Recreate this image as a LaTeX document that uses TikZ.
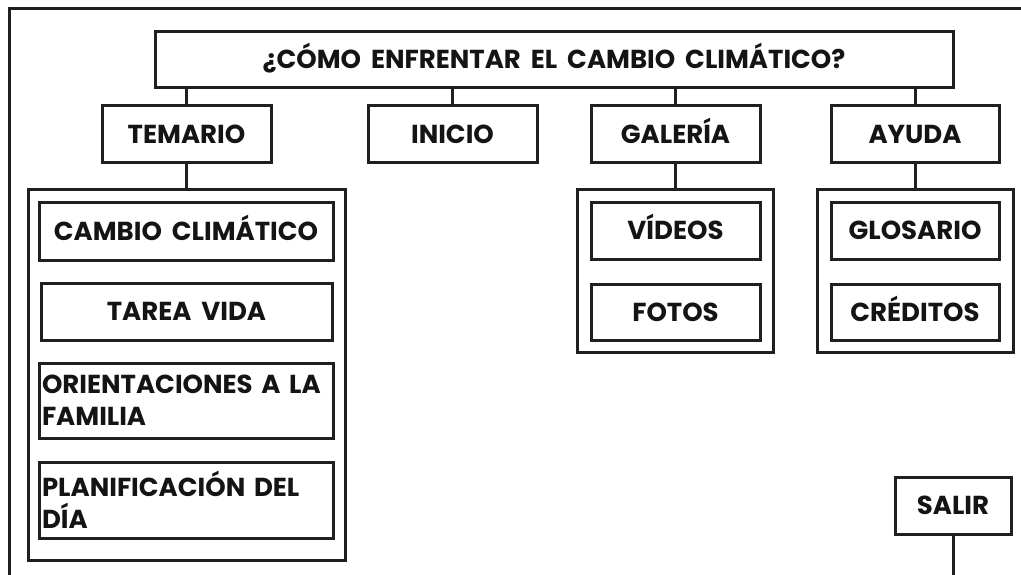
\documentclass[tikz,border=0pt]{standalone}
\usepackage{fontspec}
\setmainfont{Poppins}[WordSpace=1.8]
\begin{document}
\begin{tikzpicture}[x=1pt,y=-1pt,
  box/.style={draw=black!88,line width=3pt,rectangle,inner sep=0pt,font=\bfseries\fontsize{26}{32}\selectfont,text=black!92},
  one/.style={box,text height=18pt,text depth=0pt},
  grp/.style={draw=black!88,line width=3pt,rectangle,inner sep=0pt},
  link/.style={draw=black!88,line width=3pt}]
\useasboundingbox (0,0) rectangle (1021,575);
% frame
\draw[link] (9,575) -- (9,9) -- (1021,9);
% title
\node[one,minimum width=798pt,minimum height=56pt] (title) at (554,60) {¿CÓMO ENFRENTAR EL CAMBIO CLIMÁTICO?};
% level 1
\node[one,minimum width=169pt,minimum height=57pt] (temario) at (186.5,134.5) {TEMARIO};
\node[one,minimum width=169pt,minimum height=57pt] (inicio) at (452.5,134.5) {INICIO};
\node[one,minimum width=169pt,minimum height=57pt] (galeria) at (675.5,134.5) {GALERÍA};
\node[one,minimum width=168pt,minimum height=57pt] (ayuda) at (915,134.5) {AYUDA};
\foreach \n in {temario,inicio,galeria,ayuda}
  \draw[link] (title.south -| \n.north) -- (\n.north);
% groups
\node[grp,minimum width=317pt,minimum height=371pt] (gtem) at (186.5,375) {};
\node[grp,minimum width=196pt,minimum height=162pt] (ggal) at (675.5,271) {};
\node[grp,minimum width=196pt,minimum height=162pt] (gayu) at (915,271) {};
\draw[link] (temario.south) -- (gtem.north);
\draw[link] (galeria.south) -- (ggal.north);
\draw[link] (ayuda.south) -- (gayu.north);
% temario items
\node[one,minimum width=294pt,minimum height=57pt] (cambio) at (186,231.5) {CAMBIO CLIMÁTICO};
\node[one,minimum width=291pt,minimum height=57pt] (tarea) at (186.5,311.5) {TAREA VIDA};
\node[box,minimum width=294pt,minimum height=75pt,text width=288pt,align=left,inner xsep=3pt] (orient) at (186,400.5) {ORIENTACIONES A LA\\FAMILIA};
\node[box,minimum width=294pt,minimum height=76pt,text width=288pt,align=left,inner xsep=3pt] (plan) at (186,500) {PLANIFICACIÓN DEL\\DÍA};
% galeria items
\node[one,minimum width=169pt,minimum height=56pt] (videos) at (675.5,231) {VÍDEOS};
\node[one,minimum width=169pt,minimum height=56pt] (fotos) at (675.5,312) {FOTOS};
% ayuda items
\node[one,minimum width=168pt,minimum height=56pt] (glosario) at (915,231) {GLOSARIO};
\node[one,minimum width=168pt,minimum height=56pt] (creditos) at (915,312) {CRÉDITOS};
% salir
\node[one,minimum width=116pt,minimum height=57pt] (salir) at (953,505.5) {SALIR};
\coordinate (salirend) at (953,575);
\draw[link] (salir.south) -- (salirend);
\end{tikzpicture}
\end{document}
